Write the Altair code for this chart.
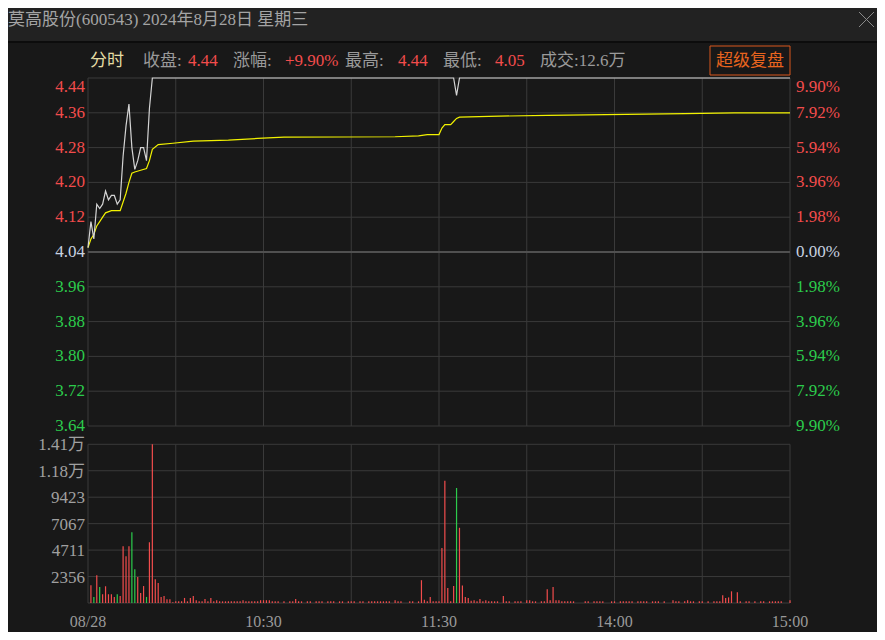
import altair as alt
import pandas as pd

# ---------------- data ----------------
prev_close = 4.04
price_minutes = [0, 1, 2, 3, 4, 5, 6, 7, 8, 9, 10, 11, 12, 13, 14, 15, 16, 17, 18, 19, 20, 21, 22, 125, 126, 127, 240]
price_values = [4.05, 4.11, 4.07, 4.15, 4.14, 4.15, 4.18, 4.16, 4.17, 4.17, 4.15, 4.16, 4.26, 4.33, 4.38, 4.28,
                4.23, 4.25, 4.28, 4.28, 4.25, 4.37, 4.44, 4.44, 4.40, 4.44, 4.44]

avg_minutes = [0, 1, 2, 3, 4, 5, 6, 8, 11, 12, 13, 14, 15, 16, 18, 20, 21, 22, 24, 29, 36, 48, 58, 67, 105,
               113, 116, 120, 121, 122, 124, 125, 126, 127, 137, 157, 204, 221, 240]
avg_values = [4.05, 4.07, 4.08, 4.10, 4.11, 4.12, 4.13, 4.135, 4.135, 4.155, 4.175, 4.20, 4.221, 4.224, 4.228,
              4.232, 4.25, 4.276, 4.287, 4.29, 4.295, 4.297, 4.301, 4.304, 4.305, 4.307, 4.31, 4.31, 4.325,
              4.333, 4.333, 4.34, 4.347, 4.35, 4.352, 4.354, 4.358, 4.36, 4.36]

# volume per minute, minute 1 .. 240
volumes = [
    1580, 540, 2470, 1430, 780, 1490, 780, 780, 540, 780,
    630, 5060, 4170, 5060, 6300, 3000, 2320, 890, 1510, 540,
    5410, 14134, 2110, 1780, 540, 630, 330, 330, 60, 150,
    150, 150, 450, 150, 450, 620, 250, 150, 150, 350,
    150, 450, 150, 250, 150, 150, 150, 150, 150, 150,
    150, 150, 250, 150, 150, 150, 150, 150, 250, 250,
    250, 250, 150, 150, 150, 0, 150, 0, 150, 150,
    350, 150, 150, 0, 150, 150, 0, 150, 150, 150,
    0, 150, 150, 150, 0, 150, 150, 0, 150, 150,
    150, 0, 150, 150, 0, 150, 150, 150, 150, 150,
    150, 150, 150, 0, 250, 150, 150, 0, 0, 150,
    150, 0, 150, 2030, 300, 150, 540, 150, 150, 150,
    4900, 10890, 1340, 150, 1520, 10240, 6700, 1550, 540, 450,
    200, 250, 150, 350, 150, 250, 150, 150, 150, 150,
    0, 620, 150, 150, 0, 150, 150, 150, 0, 250,
    250, 150, 150, 0, 150, 150, 1220, 250, 1430, 250,
    250, 150, 150, 150, 150, 150, 0, 0, 0, 150,
    150, 0, 150, 150, 150, 150, 0, 0, 150, 150,
    0, 150, 150, 150, 150, 150, 0, 150, 150, 150,
    150, 0, 150, 150, 150, 0, 150, 0, 0, 250,
    150, 150, 0, 150, 250, 150, 150, 0, 150, 150,
    0, 150, 0, 150, 150, 150, 690, 450, 500, 1040,
    0, 950, 150, 0, 150, 150, 0, 150, 0, 150,
    150, 0, 150, 150, 150, 150, 150, 0, 0, 250,
]
down_minutes = [2, 4, 10, 15, 16, 20, 126]

price_ticks = [4.44, 4.36, 4.28, 4.20, 4.12, 4.04, 3.96, 3.88, 3.80, 3.72, 3.64]
price_labels = ["4.44", "4.36", "4.28", "4.20", "4.12", "4.04", "3.96", "3.88", "3.80", "3.72", "3.64"]
pct_labels = ["9.90%", "7.92%", "5.94%", "3.96%", "1.98%", "0.00%", "1.98%", "3.96%", "5.94%", "7.92%", "9.90%"]
vol_ticks = [2356, 4711, 7067, 9423, 11779, 14134]
vol_labels = ["2356", "4711", "7067", "9423", "1.18万", "1.41万"]
time_ticks = [0, 60, 120, 180, 240]
time_labels = ["08/28", "10:30", "11:30", "14:00", "15:00"]
grid_minutes = [0, 30, 60, 90, 120, 150, 180, 210, 240]

title_text = "莫高股份(600543) 2024年8月28日 星期三"

# ---------------- styling / layout ----------------
W, H = 702, 525
FONT = "Liberation Serif, Noto Sans CJK SC"
BG = "#181818"
RED = "#f24c4c"
GREEN = "#2ccc4c"
GRID = "#3a3a3a"
NEUTRAL = "#c8d2e0"
GRAY = "#9a9a9a"

xs = alt.Scale(domain=[0, 240], nice=False, zero=False)
ps = alt.Scale(domain=[3.2331, 4.44], nice=False, zero=False)
vs = alt.Scale(domain=[0, 46757], nice=False, zero=False)


def X(f):
    return alt.X(f, type="quantitative", scale=xs, axis=None)


def YP(f):
    return alt.Y(f, type="quantitative", scale=ps, axis=None)


def YV(f):
    return alt.Y(f, type="quantitative", scale=vs, axis=None)


one = pd.DataFrame({"a": [0]})

# tables built from the arrays
price_df = pd.DataFrame({"t": price_minutes, "p": price_values})
avg_df = pd.DataFrame({"t": avg_minutes, "p": avg_values})
vol_df = pd.DataFrame({"t": list(range(1, 241)), "vol": volumes})
vol_df["base"] = 0
vol_df["col"] = [GREEN if t in down_minutes else RED for t in vol_df["t"]]
vol_df = vol_df[vol_df["vol"] > 0]


def pcolor(p):
    if abs(p - prev_close) < 1e-9:
        return NEUTRAL
    return RED if p > prev_close else GREEN


lab_df = pd.DataFrame({"p": price_ticks, "lab": price_labels, "pct": pct_labels})
lab_df["col"] = [pcolor(p) for p in price_ticks]
lab_top = lab_df[lab_df["p"] == max(price_ticks)]
lab_rest = lab_df[lab_df["p"] != max(price_ticks)]

pgrid_df = pd.DataFrame({"p": [p for p in price_ticks if p != prev_close]})
pgrid_df["t0"] = 0
pgrid_df["t1"] = 240
pc_df = pd.DataFrame({"p": [prev_close], "t0": [0], "t1": [240]})
pv_df = pd.DataFrame({"t": grid_minutes})
pv_df["p0"] = min(price_ticks)
pv_df["p1"] = max(price_ticks)
vgrid_df = pd.DataFrame({"v": [0] + vol_ticks})
vgrid_df["t0"] = 0
vgrid_df["t1"] = 240
vv_df = pd.DataFrame({"t": grid_minutes})
vv_df["v0"] = 0
vv_df["v1"] = max(vol_ticks)
vlab_df = pd.DataFrame({"v": vol_ticks, "lab": vol_labels})
tlab_df = pd.DataFrame({"t": time_ticks, "lab": time_labels})

layers = []

# title bar
layers.append(alt.Chart(one).mark_rect(color="#222222").encode(
    x=alt.value(-80), x2=alt.value(789), y=alt.value(-70), y2=alt.value(-37)))
layers.append(alt.Chart(one).mark_rule(color="#0c0c0c", strokeWidth=2).encode(
    x=alt.value(-80), x2=alt.value(789), y=alt.value(-36)))
layers.append(alt.Chart(one).mark_text(font=FONT, fontSize=17, color="#a4a4a4", align="left",
                                       baseline="middle").encode(
    x=alt.value(-80), y=alt.value(-58), text=alt.value(title_text)))
# close cross
layers.append(alt.Chart(one).mark_rule(color="#8a8a8a", strokeWidth=1).encode(
    x=alt.value(771), x2=alt.value(786), y=alt.value(-66), y2=alt.value(-51)))
layers.append(alt.Chart(one).mark_rule(color="#8a8a8a", strokeWidth=1).encode(
    x=alt.value(786), x2=alt.value(771), y=alt.value(-66), y2=alt.value(-51)))

# info row
info = [
    (2, "分时", "#e4dca4"),
    (55, "收盘:", GRAY), (100, "4.44", RED),
    (145, "涨幅:", GRAY), (197, "+9.90%", RED),
    (257, "最高:", GRAY), (310, "4.44", RED),
    (355, "最低:", GRAY), (407, "4.05", RED),
    (452, "成交:12.6万", GRAY),
]
for xx, tx, cc in info:
    layers.append(alt.Chart(one).mark_text(font=FONT, fontSize=17, color=cc, align="left",
                                           baseline="middle").encode(
        x=alt.value(xx), y=alt.value(-17), text=alt.value(tx)))
layers.append(alt.Chart(one).mark_rect(fillOpacity=0, stroke="#d8561c", strokeWidth=1).encode(
    x=alt.value(622), x2=alt.value(702), y=alt.value(-32), y2=alt.value(-3)))
layers.append(alt.Chart(one).mark_text(font=FONT, fontSize=17, color="#e8641e", align="center",
                                       baseline="middle").encode(
    x=alt.value(662), y=alt.value(-17), text=alt.value("超级复盘")))

# grids
layers.append(alt.Chart(pgrid_df).mark_rule(color=GRID, strokeWidth=1).encode(
    x=X("t0"), x2="t1", y=YP("p")))
layers.append(alt.Chart(pv_df).mark_rule(color=GRID, strokeWidth=1).encode(
    x=X("t"), y=YP("p0"), y2="p1"))
layers.append(alt.Chart(pc_df).mark_rule(color="#505050", strokeWidth=2).encode(
    x=X("t0"), x2="t1", y=YP("p")))
layers.append(alt.Chart(vgrid_df).mark_rule(color=GRID, strokeWidth=1).encode(
    x=X("t0"), x2="t1", y=YV("v")))
layers.append(alt.Chart(vv_df).mark_rule(color=GRID, strokeWidth=1).encode(
    x=X("t"), y=YV("v0"), y2="v1"))

# volume bars
layers.append(alt.Chart(vol_df).mark_rule(strokeWidth=1.2).encode(
    x=X("t"), y=YV("vol"), y2="base", color=alt.Color("col:N", scale=None)))

# average and price lines
layers.append(alt.Chart(avg_df).mark_line(color="#f2f200", strokeWidth=1.2).encode(
    x=X("t"), y=YP("p")))
layers.append(alt.Chart(price_df).mark_line(color="#d4d4d4", strokeWidth=1.2).encode(
    x=X("t"), y=YP("p")))

# price labels left / percent labels right
layers.append(alt.Chart(lab_rest).mark_text(font=FONT, fontSize=17, align="right", baseline="middle").encode(
    x=alt.value(-3), y=YP("p"), text="lab:N", color=alt.Color("col:N", scale=None)))
layers.append(alt.Chart(lab_top).mark_text(font=FONT, fontSize=17, align="right", baseline="middle", dy=9).encode(
    x=alt.value(-3), y=YP("p"), text="lab:N", color=alt.Color("col:N", scale=None)))
layers.append(alt.Chart(lab_rest).mark_text(font=FONT, fontSize=17, align="left", baseline="middle").encode(
    x=alt.value(708), y=YP("p"), text="pct:N", color=alt.Color("col:N", scale=None)))
layers.append(alt.Chart(lab_top).mark_text(font=FONT, fontSize=17, align="left", baseline="middle", dy=9).encode(
    x=alt.value(708), y=YP("p"), text="pct:N", color=alt.Color("col:N", scale=None)))

# volume labels
layers.append(alt.Chart(vlab_df).mark_text(font=FONT, fontSize=17, align="right", baseline="middle",
                                           color="#a0a0a0", dy=1).encode(
    x=alt.value(-3), y=YV("v"), text="lab:N"))

# time labels
layers.append(alt.Chart(tlab_df).mark_text(font=FONT, fontSize=16, align="center", baseline="middle",
                                           color=GRAY).encode(
    x=X("t"), y=alt.value(544), text="lab:N"))

chart = alt.layer(*layers).resolve_scale(y="independent").properties(
    width=W, height=H,
    padding={"left": 80, "top": 70, "right": 87, "bottom": 29},
    autosize=alt.AutoSizeParams(type="none"),
    background=BG,
).configure_view(stroke=None)

chart.save("out.html", embed_options={"renderer": "svg", "actions": False})
